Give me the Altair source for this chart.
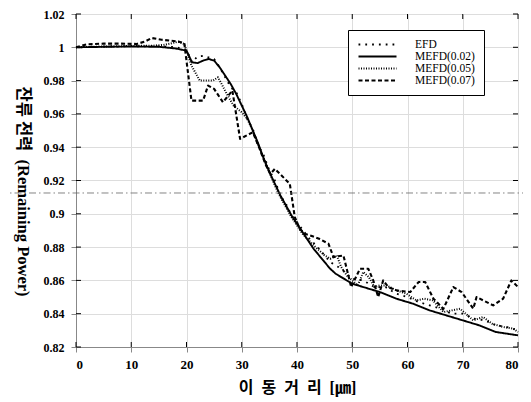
import altair as alt
import pandas as pd

SERIES = ["EFD", "MEFD(0.02)", "MEFD(0.05)", "MEFD(0.07)"]

efd_x = [0, 2, 4, 6, 8, 10, 12, 14, 16, 18, 20,
         21, 22, 23, 24, 25, 26, 27, 28, 29, 30,
         31, 32, 33, 34, 35, 36, 37, 38, 39, 40,
         42, 44, 46, 48, 50, 52, 54, 56, 58, 60,
         62, 64, 66, 68, 70, 72, 74, 76, 78, 80]
efd_y = [1.000, 1.0003, 1.0002, 1.0006, 1.0004, 1.0008, 1.0005, 1.0007, 1.0004, 1.0002, 0.9985,
         0.991, 0.9945, 0.9948, 0.994, 0.993, 0.988, 0.982, 0.976, 0.973, 0.966,
         0.957, 0.951, 0.941, 0.935, 0.926, 0.920, 0.911, 0.906, 0.899, 0.895,
         0.886, 0.879, 0.871, 0.867, 0.861, 0.860, 0.856, 0.856, 0.852, 0.850,
         0.847, 0.845, 0.843, 0.840, 0.840, 0.837, 0.836, 0.833, 0.832, 0.830]

m02_x = [0, 5, 10, 15, 18, 20,
         21, 22, 23, 24, 25, 26, 27, 28, 29, 30,
         31, 32, 33, 34, 35, 36, 37, 38, 39, 40,
         41, 42, 43, 44, 45, 46, 47, 48, 49, 50,
         52, 55, 58, 61, 64, 67, 70, 73, 76, 78, 80]
m02_y = [1.000, 1.0003, 1.0005, 1.0003, 0.9993, 0.998,
         0.991, 0.9905, 0.992, 0.993, 0.992, 0.988, 0.983, 0.978, 0.972, 0.965,
         0.958, 0.950, 0.942, 0.933, 0.925, 0.918, 0.911, 0.905, 0.899, 0.894,
         0.889, 0.884, 0.879, 0.875, 0.871, 0.867, 0.864, 0.862, 0.860, 0.858,
         0.856, 0.853, 0.849, 0.846, 0.842, 0.839, 0.836, 0.833, 0.829, 0.828, 0.827]

m05_x = [0, 5, 10, 14, 16, 18.5, 19.6, 20.9, 22.4, 24.8,
         25.7, 27.3, 28.5, 30, 31, 32, 33, 34, 35, 36,
         37, 38, 39, 40, 41, 43, 45, 46, 47.2, 48,
         49, 50, 51, 52, 53, 54, 55, 56.2, 58, 59.8,
         61.6, 63, 64.6, 66.5, 68, 69.5, 71.9, 73.7, 75.3, 77.3,
         79.2, 80]
m05_y = [1.000, 1.0005, 1.0008, 1.001, 1.0015, 1.0033, 1.002, 0.989, 0.980, 0.980,
         0.982, 0.972, 0.965, 0.961, 0.957, 0.950, 0.941, 0.933, 0.925, 0.917,
         0.910, 0.904, 0.898, 0.893, 0.888, 0.881, 0.875, 0.873, 0.875, 0.868,
         0.863, 0.860, 0.857, 0.865, 0.862, 0.856, 0.857, 0.857, 0.854, 0.852,
         0.848, 0.849, 0.848, 0.841, 0.842, 0.843, 0.836, 0.838, 0.834, 0.832,
         0.831, 0.829]

m07_x = [0, 2, 5, 8, 11, 12.5, 13.7, 15.5, 18.5, 19.6,
         20.9, 23, 23.9, 25, 26.6, 28.3, 29.7, 32, 33, 34.4,
         35.2, 36, 38.7, 39.6, 40.5, 41.4, 42.4, 44, 45.7, 46.6,
         48.4, 49, 49.8, 51.4, 52.9, 53.8, 54.7, 55.6, 56.5, 58,
         60.5, 62, 63.2, 64.7, 66.5, 68.3, 69.8, 71.9, 72.5, 75.5,
         77.3, 78.8, 80]
m07_y = [1.000, 1.0018, 1.0022, 1.0022, 1.002, 1.0035, 1.0056, 1.0045, 1.0035, 1.0025,
         0.968, 0.968, 0.977, 0.975, 0.967, 0.974, 0.945, 0.949, 0.941, 0.929,
         0.924, 0.927, 0.918, 0.898, 0.891, 0.888, 0.887, 0.885, 0.882, 0.874,
         0.875, 0.867, 0.856, 0.867, 0.867, 0.860, 0.850, 0.860, 0.856, 0.854,
         0.853, 0.859, 0.859, 0.849, 0.843, 0.856, 0.853, 0.843, 0.850, 0.845,
         0.849, 0.860, 0.856]

x_ticks = [0, 10, 20, 30, 40, 50, 60, 70, 80]
y_ticks = [0.82, 0.84, 0.86, 0.88, 0.90, 0.92, 0.94, 0.96, 0.98, 1.00, 1.02]
scan_line_y = [0.9125]

rows = []
for name, xs, ys in [("EFD", efd_x, efd_y), ("MEFD(0.02)", m02_x, m02_y),
                     ("MEFD(0.05)", m05_x, m05_y), ("MEFD(0.07)", m07_x, m07_y)]:
    for i, (a, b) in enumerate(zip(xs, ys)):
        rows.append({"series": name, "x": a, "y": b, "order": i})
df = pd.DataFrame(rows)

W, H = 442, 333
SERIF = "'Liberation Serif', 'Noto Sans CJK KR'"

X_TITLE = "이\u2002동\u2002거\u2002리\u2002[㎛]"
Y_TITLE = "잔류 전력\u2002(Remaining Power)"

xscale = alt.Scale(domain=[0, 80], nice=False, zero=False)
yscale = alt.Scale(domain=[0.82, 1.02], nice=False, zero=False)

x_axis = alt.Axis(values=x_ticks, title=X_TITLE, format="d", labelOverlap=False,
                  labelFont=SERIF, labelFontSize=13, labelFontWeight="bold",
                  labelPadding=6, titleFont=SERIF, titleFontSize=16,
                  titleFontWeight="bold", titlePadding=8)
y_axis = alt.Axis(values=y_ticks, format=".2~f", title=Y_TITLE, labelOverlap=False,
                  labelFont=SERIF, labelFontSize=12, labelFontWeight="bold",
                  labelPadding=7, titleFont=SERIF, titleFontSize=16.5,
                  titleFontWeight="bold", titleAngle=90, titleX=-54, titleY=177,
                  titleAlign="center", titleBaseline="middle")

legend_kw = dict(title=None, orient="none", legendX=272, legendY=16, padding=9,
                 strokeColor="black", fillColor="white", cornerRadius=0,
                 symbolType="stroke", symbolSize=1444, symbolStrokeColor="black",
                 labelFont="Liberation Serif", labelFontSize=11.5, labelColor="black",
                 labelOffset=17, rowPadding=0, clipHeight=11)

lines = alt.Chart(df).mark_line(color="black", strokeCap="butt", strokeJoin="round").encode(
    x=alt.X("x:Q", scale=xscale, axis=x_axis),
    y=alt.Y("y:Q", scale=yscale, axis=y_axis),
    strokeDash=alt.StrokeDash("series:N",
                              scale=alt.Scale(domain=SERIES,
                                              range=[[1.8, 5], [1, 0], [1, 1.5], [4, 2.5]]),
                              legend=alt.Legend(**legend_kw)),
    strokeWidth=alt.StrokeWidth("series:N",
                                scale=alt.Scale(domain=SERIES, range=[1.8, 2.1, 0.9, 1.3]),
                                legend=alt.Legend(**legend_kw)),
    order="order:Q",
)

ytick_df = pd.DataFrame({"y": y_ticks})
xtick_df = pd.DataFrame({"x": x_ticks})

left_ticks = alt.Chart(ytick_df).mark_rule(color="black", strokeWidth=1).encode(
    y=alt.Y("y:Q", scale=yscale, axis=y_axis), x=alt.value(0), x2=alt.value(5))
right_ticks = alt.Chart(ytick_df).mark_rule(color="black", strokeWidth=1).encode(
    y=alt.Y("y:Q", scale=yscale, axis=y_axis), x=alt.value(W - 5), x2=alt.value(W))
bottom_ticks = alt.Chart(xtick_df).mark_rule(color="black", strokeWidth=1).encode(
    x=alt.X("x:Q", scale=xscale, axis=x_axis), y=alt.value(H - 5), y2=alt.value(H))
top_ticks = alt.Chart(xtick_df).mark_rule(color="black", strokeWidth=1).encode(
    x=alt.X("x:Q", scale=xscale, axis=x_axis), y=alt.value(0), y2=alt.value(5))

scan_line = alt.Chart(pd.DataFrame({"y": scan_line_y})).mark_rule(
    color="#666666", strokeWidth=0.8, strokeDash=[7, 3, 1.5, 3]).encode(
    y=alt.Y("y:Q", scale=yscale, axis=y_axis), x=alt.value(-76), x2=alt.value(W + 13))

chart = alt.layer(lines, scan_line, left_ticks, right_ticks, bottom_ticks, top_ticks).properties(
    width=W, height=H,
    padding={"left": 68, "top": 6, "right": 5, "bottom": 50},
    autosize=alt.AutoSizeParams(type="none"),
).configure_view(
    stroke="black", strokeWidth=1.3
).configure_axis(
    grid=False, domain=False, ticks=False, labelColor="black", titleColor="black",
    labelOverlap=False
).configure(background="white")

chart.save("out.html", embed_options={"renderer": "svg", "actions": False})
